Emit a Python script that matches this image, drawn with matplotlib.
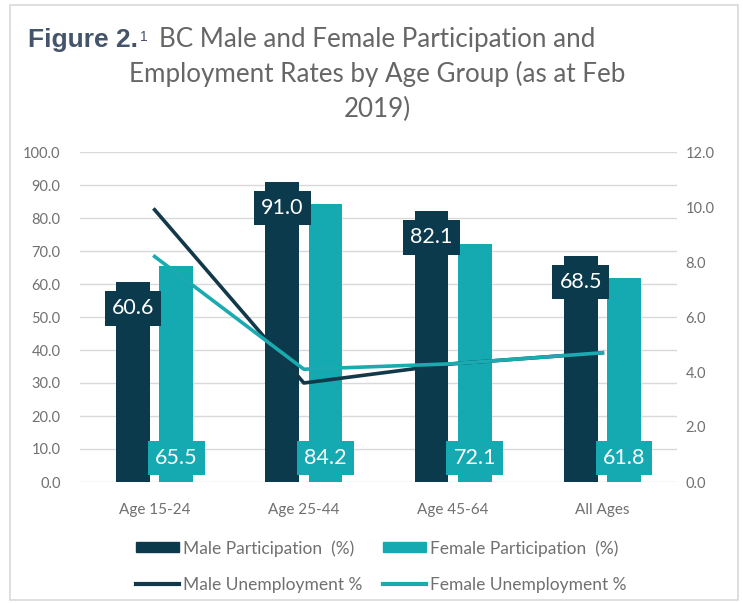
import matplotlib
matplotlib.use("Agg")
import matplotlib.pyplot as plt
import numpy as np
from matplotlib.patches import Patch, Rectangle
from matplotlib.lines import Line2D

# data
groups = ["Age 15-24", "Age 25-44", "Age 45-64", "All Ages"]
male_participation = [60.6, 91.0, 82.1, 68.5]
female_participation = [65.5, 84.2, 72.1, 61.8]
male_unemployment = [9.9, 3.6, 4.3, 4.7]
female_unemployment = [8.2, 4.1, 4.3, 4.7]

left_ticks = np.arange(0, 101, 10)
right_ticks = np.arange(0, 13, 2)

NAVY = "#0b3a4d"
TEAL = "#15a9b2"
GRAY_TXT = "#707070"
FONT = "Lato"

W, H = 743, 603
fig = plt.figure(figsize=(W / 100, H / 100), dpi=100)
plt.rcParams["font.family"] = FONT

# light frame round the whole chart
fig.patches.append(Rectangle((10 / W, 1 - 600 / H), 728 / W, 595 / H,
                             transform=fig.transFigure, fill=False,
                             edgecolor="#d9d9d9", linewidth=1.2))

ax = fig.add_axes([80 / W, 1 - 482 / H, 597 / W, 330 / H])
x = np.arange(len(groups))
off, bw = 0.145, 0.225
ax.bar(x - off, male_participation, bw, color=NAVY, zorder=2)
ax.bar(x + off, female_participation, bw, color=TEAL, zorder=2)

ax.set_ylim(0, 100)
ax.set_xlim(-0.5, len(groups) - 0.5)
ax.set_yticks(left_ticks)
ax.set_yticklabels([f"{v:.1f}" for v in left_ticks])
ax.set_xticks(x)
ax.set_xticklabels(groups)
ax.tick_params(axis="y", length=0, pad=14, labelsize=10.5, labelcolor=GRAY_TXT)
ax.tick_params(axis="x", length=0, pad=15, labelsize=11, labelcolor=GRAY_TXT)
ax.grid(axis="y", color="#d9d9d9", linewidth=1.0, zorder=0)
ax.set_axisbelow(True)
for s in ax.spines.values():
    s.set_visible(False)

# value labels: male at inside end, female at inside base
for xi, v in zip(x, male_participation):
    ax.annotate(f"{v:.1f}", (xi - off, v), xytext=(0, -19), textcoords="offset points",
                ha="center", va="center", fontsize=15.5, color="white", zorder=5,
                bbox=dict(boxstyle="square,pad=0.33", fc=NAVY, ec="none"))
for xi, v in zip(x, female_participation):
    ax.annotate(f"{v:.1f}", (xi + off, 0), xytext=(0, 17), textcoords="offset points",
                ha="center", va="center", fontsize=15.5, color="white", zorder=5,
                bbox=dict(boxstyle="square,pad=0.33", fc=TEAL, ec="none"))

ax2 = ax.twinx()
ax2.plot(x, male_unemployment, color="#12394a", linewidth=2.6)
ax2.plot(x, female_unemployment, color="#1aaab0", linewidth=2.6)
ax2.set_ylim(0, 12)
ax2.set_yticks(right_ticks)
ax2.set_yticklabels([f"{v:.1f}" for v in right_ticks])
ax2.tick_params(axis="y", length=0, pad=6, labelsize=10.5, labelcolor=GRAY_TXT)
for s in ax2.spines.values():
    s.set_visible(False)

# title
fig.text(28 / W, 1 - 47 / H, "Figure 2.", fontsize=19, fontweight="bold",
         family="Liberation Sans", color="#44546a", va="baseline")
fig.text(140 / W, 1 - 41 / H, "1", fontsize=10, family="Liberation Sans",
         color="#44546a", va="baseline")
title_lines = ["BC Male and Female Participation and",
               "Employment Rates by Age Group (as at Feb",
               "2019)"]
for i, t in enumerate(title_lines):
    fig.text(377 / W, 1 - (47 + 35 * i) / H, t, fontsize=18.7, color="#666666",
             ha="center", va="baseline")

handles = [Patch(color=NAVY), Line2D([], [], color="#12394a", lw=3),
           Patch(color=TEAL), Line2D([], [], color="#1aaab0", lw=3)]
labels = ["Male Participation  (%)", "Male Unemployment %",
          "Female Participation  (%)", "Female Unemployment %"]
leg = fig.legend(handles, labels, ncol=2, loc="upper left",
                 bbox_to_anchor=(136 / W, 1 - 540 / H), frameon=False,
                 fontsize=12.5, handlelength=2.5, handleheight=0.52,
                 handletextpad=0.2, columnspacing=1.2, labelspacing=1.15,
                 borderpad=0, borderaxespad=0)
for t in leg.get_texts():
    t.set_color(GRAY_TXT)

fig.savefig("out.png", dpi=100)
